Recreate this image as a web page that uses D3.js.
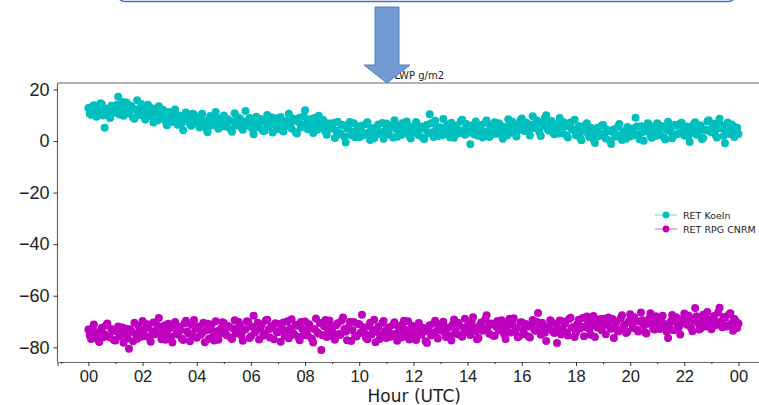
<!DOCTYPE html>
<html lang="en">
  <head>
    <meta charset="utf-8" />
    <title>LWP g/m2</title>
    <style>
      body {
        margin: 0;
        background: #fff;
      }
      svg {
        display: block;
        font-family: 'DejaVu Sans', sans-serif;
      }
    </style>
  </head>

  <body>
    <div id="chart"></div>

    <script src="https://cdnjs.cloudflare.com/ajax/libs/d3/7.4.4/d3.min.js"></script>
    <script type="text/javascript">
      // Samples every 3 minutes, 00 to 24 UTC (one row = one hour)
      var stepMinutes = 3

      var koeln = [
        12.8, 10.6, 10.2, 13.4, 13.9, 11.1, 9.4, 12.0, 11.7, 14.6, 14.2, 9.9, 5.1, 12.3, 12.5, 10.4, 8.9, 13.7, 13.1, 11.0,
        11.4, 14.1, 17.2, 10.3, 12.6, 15.2, 9.8, 12.9, 14.9, 11.5, 10.7, 13.8, 13.3, 9.1, 8.6, 12.2, 15.8, 10.1, 11.2, 14.4,
        12.4, 9.5, 8.3, 11.6, 14.1, 10.0, 9.6, 12.7, 7.2, 10.9, 11.8, 8.0, 13.5, 10.6, 8.9, 12.1, 10.4, 7.7, 6.1, 11.3,
        10.9, 8.4, 7.4, 10.1, 12.2, 8.8, 6.3, 9.9, 9.5, 7.0, 4.2, 8.6, 11.1, 9.2, 8.1, 6.6, 5.9, 10.6, 10.3, 7.8,
        8.8, 6.9, 5.2, 9.1, 10.6, 7.6, 7.1, 4.9, 3.4, 8.3, 9.7, 6.0, 6.5, 9.4, 11.3, 7.3, 4.8, 8.6, 8.2, 5.7,
        9.9, 7.2, 5.5, 8.4, 7.9, 4.6, 3.6, 7.7, 10.8, 6.0, 6.2, 9.0, 8.6, 5.3, 4.4, 7.5, 11.6, 6.8, 5.9, 8.9,
        7.7, 4.9, 2.6, 7.3, 9.4, 6.1, 5.1, 8.5, 8.2, 3.9, 4.0, 7.0, 10.1, 5.6, 6.4, 9.2, 3.3, 6.7, 8.8, 4.7,
        5.4, 8.0, 9.3, 4.2, 3.7, 7.1, 7.8, 5.8, 10.6, 6.3, 4.9, 8.7, 8.1, 3.4, 2.9, 7.4, 9.0, 5.2, 6.2, 9.6,
        11.9, 6.8, 4.6, 7.9, 8.4, 5.3, 3.1, 8.9, 7.2, 4.4, 9.8, 6.0, 5.0, 8.2, 7.6, 3.6, 2.4, 6.1, 6.8, 4.9,
        5.3, 7.0, 1.2, 4.1, 7.5, 2.6, 3.0, 6.3, 6.1, 1.8, -0.6, 4.9, 4.8, 7.4, 2.2, 3.5, 6.9, 1.5, 3.6, 5.7,
        1.5, 4.3, 5.9, 2.2, 2.8, 6.6, 7.3, 3.4, 0.4, 5.0, 4.6, 1.1, 2.1, 5.5, 6.4, 2.9, 3.3, 7.0, 0.9, 4.0,
        6.8, 3.6, 2.5, 6.0, 5.4, 1.4, 8.1, 4.7, 1.7, 5.9, 4.2, 2.3, 7.0, 5.1, 3.1, 7.6, 5.8, 2.0, 1.0, 4.4,
        3.9, 6.1, 7.4, 2.8, 2.2, 5.0, 5.6, 1.3, 0.8, 4.5, 6.3, 3.0, 10.4, 6.9, 3.4, 1.6, 7.9, 4.8, 1.9, 5.3,
        5.2, 2.1, 8.5, 4.0, 2.7, 6.4, 4.6, 1.5, 7.1, 3.7, 1.3, 5.5, 6.0, 2.9, 3.8, 7.7, 8.2, 4.3, 2.4, 6.6,
        5.7, 3.2, -1.3, 6.0, 4.4, 2.5, 7.6, 5.2, 2.0, 4.7, 6.2, 1.4, 3.5, 7.1, 8.0, 3.9, 1.6, 5.9, 5.1, 2.7,
        7.3, 4.5, 2.8, 6.9, 6.1, 3.3, 0.9, 5.4, 4.9, 2.1, 8.4, 5.8, 3.2, 7.5, 6.6, 3.6, 1.8, 4.1, 5.5, 8.0,
        8.7, 5.9, 3.9, 7.2, 6.8, 4.4, 2.1, 6.3, 9.6, 5.0, 5.3, 8.1, 7.4, 3.5, 1.9, 6.6, 6.0, 8.9, 10.0, 4.7,
        4.1, 6.9, 7.8, 3.3, 2.6, 5.7, 6.5, 2.9, 8.9, 5.2, 3.0, 7.3, 5.6, 2.2, 1.4, 6.1, 7.2, 4.6, 4.3, 8.2,
        2.2, 4.8, 5.8, 1.4, 0.3, 3.9, 4.5, 6.2, 6.9, 2.6, 1.6, 5.1, 3.7, 0.6, -0.8, 3.2, 5.1, 1.9, 2.8, 6.0,
        6.2, 2.9, 1.0, 4.4, 3.9, 0.2, -1.2, 3.5, 4.6, 1.7, 2.3, 5.5, 6.6, 2.0, 0.4, 3.8, 3.1, 0.9, 5.4, 2.5,
        1.8, 4.0, 4.9, 2.2, 9.0, 5.6, 2.5, 0.7, 5.7, 3.4, 0.1, 4.6, 3.8, 6.9, 6.4, 2.1, 1.3, 5.0, 4.2, 1.9,
        6.9, 3.7, 2.4, 5.8, 5.3, 1.5, 0.6, 4.4, 7.5, 5.0, 3.6, 1.1, 1.9, 6.3, 5.9, 2.7, 3.0, 6.8, 7.1, 4.1,
        2.1, 4.6, 5.6, 1.8, -0.4, 3.4, 4.8, 6.5, 7.3, 2.4, 2.9, 5.2, 6.0, 0.8, 1.2, 4.3, 4.4, 7.6, 8.1, 3.7,
        3.5, 5.4, 6.7, 2.3, 1.4, 5.0, 8.6, 6.1, 4.9, 1.9, -0.9, 4.2, 7.2, 3.8, 2.6, 6.4, 5.8, 1.6, 3.9, 5.1,
        2.7
      ]

      var cnrm = [
        -73.1, -75.4, -76.8, -72.6, -71.2, -74.2, -75.5, -77.0, -77.9, -73.7, -72.4, -76.1, -74.9, -71.5, -70.8, -75.8, -76.2, -72.9, -73.6, -77.3,
        -77.4, -73.9, -71.9, -75.7, -75.1, -72.3, -78.2, -74.4, -72.8, -76.5, -80.6, -73.0, -74.0, -77.7, -70.5, -74.8, -76.7, -71.7, -73.3, -75.9,
        -69.8, -73.2, -75.6, -71.0, -72.1, -76.3, -77.8, -73.8, -70.4, -74.9, -74.3, -71.6, -68.6, -75.2, -76.9, -72.5, -71.5, -77.1, -74.8, -70.9,
        -72.6, -75.9, -78.1, -71.4, -70.2, -74.4, -75.0, -72.0, -73.4, -76.6, -77.2, -70.8, -69.7, -73.9, -74.6, -77.7, -71.3, -75.3, -69.4, -72.8,
        -76.3, -72.1, -71.8, -75.1, -74.5, -70.5, -78.0, -73.5, -70.9, -76.7, -73.2, -71.2, -75.9, -77.4, -69.9, -73.8, -77.1, -74.7, -72.7, -70.3,
        -70.6, -74.0, -75.3, -71.7, -72.0, -76.1, -76.8, -72.7, -69.5, -74.6, -74.1, -70.2, -71.4, -75.4, -77.5, -73.3, -73.0, -69.9, -70.1, -76.4,
        -75.7, -72.0, -67.8, -74.3, -73.5, -70.5, -77.0, -72.9, -71.2, -75.5, -74.8, -69.6, -69.3, -73.1, -76.2, -71.8, -72.4, -76.9, -70.7, -74.0,
        -74.2, -71.0, -77.8, -73.0, -70.4, -75.6, -73.7, -69.9, -76.5, -72.6, -69.1, -74.5, -75.0, -71.3, -71.6, -76.0, -77.3, -70.2, -72.9, -75.2,
        -70.0, -73.5, -75.4, -71.1, -72.5, -76.7, -78.1, -72.9, -68.8, -74.2, -74.7, -70.6, -81.0, -75.3, -71.8, -69.4, -76.0, -73.8, -69.6, -72.2,
        -73.9, -76.0, -77.1, -71.4, -70.7, -74.8, -75.2, -69.7, -68.4, -72.9, -74.0, -77.3, -72.3, -70.2, -77.6, -73.4, -70.2, -75.5, -75.8, -71.0,
        -71.1, -74.4, -67.4, -72.2, -74.6, -76.3, -76.9, -71.8, -70.5, -75.0, -73.3, -69.3, -78.0, -74.1, -72.0, -76.8, -75.5, -70.6, -69.8, -73.7,
        -76.4, -73.0, -72.2, -75.9, -74.9, -71.3, -70.3, -74.7, -77.5, -72.1, -73.6, -76.2, -71.0, -69.7, -75.8, -73.3, -69.9, -77.0, -74.2, -71.6,
        -72.8, -75.6, -77.2, -71.9, -70.6, -74.0, -75.1, -72.4, -73.9, -77.7, -78.3, -73.1, -71.4, -75.4, -74.5, -70.8, -69.7, -73.8, -76.6, -72.0,
        -73.5, -70.9, -70.1, -74.4, -76.0, -72.7, -72.3, -75.6, -77.4, -71.2, -69.2, -73.9, -74.8, -70.5, -71.6, -75.3, -75.9, -72.5, -68.9, -74.1,
        -71.7, -74.0, -75.2, -70.3, -68.3, -72.5, -73.8, -76.9, -76.4, -71.5, -70.4, -73.6, -72.9, -69.1, -67.6, -72.0, -74.7, -70.8, -70.9, -75.5,
        -75.5, -71.9, -69.8, -73.4, -73.1, -69.5, -71.2, -74.9, -76.8, -72.3, -70.0, -68.9, -74.3, -71.0, -68.7, -73.7, -72.6, -76.1, -75.7, -70.4,
        -70.3, -73.2, -74.9, -71.0, -72.0, -75.8, -76.2, -71.7, -69.4, -73.0, -73.6, -70.1, -66.7, -72.8, -75.1, -70.5, -71.5, -74.4, -77.6, -72.2,
        -72.8, -69.5, -70.2, -73.9, -74.5, -71.1, -78.3, -72.6, -69.6, -75.0, -73.3, -70.0, -71.0, -74.2, -75.4, -69.0, -68.5, -72.4, -72.1, -76.0,
        -74.4, -71.0, -69.3, -72.7, -71.9, -68.6, -75.7, -72.2, -68.1, -70.4, -73.0, -75.1, -70.6, -67.9, -76.0, -71.7, -72.4, -69.5, -69.0, -73.4,
        -71.5, -68.9, -74.9, -70.3, -68.4, -72.1, -72.8, -69.0, -76.4, -71.6, -70.1, -73.9, -73.6, -68.7, -67.6, -72.0, -71.2, -74.5, -74.0, -69.8,
        -67.2, -70.6, -72.5, -68.3, -69.8, -73.1, -73.9, -70.0, -66.5, -69.5, -71.4, -74.2, -74.6, -70.9, -68.9, -66.8, -70.7, -72.8, -73.1, -68.0,
        -69.4, -71.8, -72.9, -68.6, -67.8, -70.9, -71.6, -74.0, -76.4, -72.3, -70.0, -67.5, -73.4, -69.7, -68.3, -71.1, -72.2, -75.0, -70.8, -68.9,
        -66.9, -70.2, -71.3, -67.7, -68.5, -72.4, -73.8, -69.6, -64.8, -68.0, -70.6, -73.1, -72.7, -68.8, -67.4, -70.9, -71.9, -66.3, -69.1, -72.0,
        -73.0, -69.3, -67.9, -71.4, -70.4, -66.5, -64.7, -70.0, -72.2, -68.2, -68.6, -71.9, -71.5, -67.3, -66.8, -70.6, -73.6, -69.0, -69.9, -72.5,
        -70.8
      ]

      var seriesNames = ['RET Koeln', 'RET RPG CNRM']
      var seriesColors = ['#00bfbf', '#bf00bf']

      var xTickHours = [0, 2, 4, 6, 8, 10, 12, 14, 16, 18, 20, 22, 24]
      var xTickLabels = ['00', '02', '04', '06', '08', '10', '12', '14', '16', '18', '20', '22', '00']
      var xMinorHours = [-1, 1, 3, 5, 7, 9, 11, 13, 15, 17, 19, 21, 23, 25]
      var yTicks = [20, 0, -20, -40, -60, -80]

      var width = 759,
        height = 405
      var margin = { top: 83, right: -12, bottom: 43, left: 57.5 }

      var svg = d3.select('#chart').append('svg').attr('width', width).attr('height', height)

      // Scales (matplotlib style padding)
      var x = d3
        .scaleLinear()
        .domain([-1.14, 25.2])
        .range([margin.left, width - margin.right])
      var y = d3
        .scaleLinear()
        .domain([-85.7, 22.5])
        .range([height - margin.bottom, margin.top])

      // Box of the slide above, only its bottom edge shows
      svg
        .append('rect')
        .attr('x', 117)
        .attr('y', -40)
        .attr('width', 619)
        .attr('height', 41.5)
        .attr('rx', 8)
        .attr('fill', '#fff')
        .attr('stroke', '#4472c4')
        .attr('stroke-width', 1.5)

      // Points
      var toPoints = function (values) {
        return values.map(function (v, i) {
          return { h: (i * stepMinutes) / 60, v: v }
        })
      }
      var allSeries = [toPoints(koeln), toPoints(cnrm)]

      allSeries.forEach(function (pts, k) {
        svg
          .append('g')
          .selectAll('circle')
          .data(pts)
          .enter()
          .append('circle')
          .attr('cx', function (d) {
            return x(d.h)
          })
          .attr('cy', function (d) {
            return y(d.v)
          })
          .attr('r', 4)
          .attr('fill', seriesColors[k])
      })

      // Spines (left, top and bottom; right falls off the page)
      var spine = svg.append('g').attr('stroke', '#666').attr('stroke-width', 1.2)
      spine
        .append('line')
        .attr('x1', margin.left)
        .attr('x2', margin.left)
        .attr('y1', y.range()[1])
        .attr('y2', y.range()[0])
      spine
        .append('line')
        .attr('x1', margin.left)
        .attr('x2', width)
        .attr('y1', y.range()[1])
        .attr('y2', y.range()[1])

      // X axis
      var xAxis = d3
        .axisBottom(x)
        .tickValues(xTickHours)
        .tickSize(4)
        .tickPadding(4)
        .tickFormat(function (d, i) {
          return xTickLabels[i]
        })
      var gx = svg
        .append('g')
        .attr('transform', 'translate(0,' + y.range()[0] + ')')
        .call(xAxis)
      gx.select('.domain').attr('stroke', '#666').attr('stroke-width', 1.2)
      gx.selectAll('.tick line').attr('stroke', '#333')
      gx.selectAll('text').attr('font-size', 16.5).attr('fill', '#222')

      svg
        .append('g')
        .attr('transform', 'translate(0,' + y.range()[0] + ')')
        .call(d3.axisBottom(x).tickValues(xMinorHours).tickSize(2).tickFormat(''))
        .call(function (g) {
          g.select('.domain').remove()
          g.selectAll('line').attr('stroke', '#333')
        })

      // Y axis
      var gy = svg
        .append('g')
        .attr('transform', 'translate(' + margin.left + ',0)')
        .call(
          d3
            .axisLeft(y)
            .tickValues(yTicks)
            .tickSize(4)
            .tickPadding(4)
            .tickFormat(function (d) {
              return d < 0 ? '\u2212' + Math.abs(d) : d
            })
        )
      gy.select('.domain').remove()
      gy.selectAll('.tick line').attr('stroke', '#333')
      gy.selectAll('text').attr('font-size', 18).attr('fill', '#222')

      // Axis label and title
      var midX = (x.range()[0] + x.range()[1]) / 2
      svg
        .append('text')
        .attr('x', midX)
        .attr('y', 402)
        .attr('text-anchor', 'middle')
        .attr('font-size', 17)
        .attr('fill', '#222')
        .text('Hour (UTC)')

      svg
        .append('text')
        .attr('x', midX + 5)
        .attr('y', 79)
        .attr('text-anchor', 'middle')
        .attr('font-size', 10)
        .attr('fill', '#222')
        .text('LWP g/m2')

      // Legend
      var legend = svg
        .append('g')
        .selectAll('g')
        .data(seriesNames)
        .enter()
        .append('g')
        .attr('transform', function (d, i) {
          return 'translate(655,' + (215 + i * 14) + ')'
        })
      legend
        .append('line')
        .attr('x1', 0)
        .attr('x2', 22)
        .attr('stroke', function (d, i) {
          return seriesColors[i]
        })
        .attr('stroke-opacity', 0.5)
        .attr('stroke-width', 1.2)
      legend
        .append('circle')
        .attr('cx', 11)
        .attr('r', 3.4)
        .attr('fill', function (d, i) {
          return seriesColors[i]
        })
      legend
        .append('text')
        .attr('x', 28)
        .attr('y', 3.5)
        .attr('font-size', 9.5)
        .attr('fill', '#222')
        .text(function (d) {
          return d
        })

      // Down arrow from the slide box, drawn over the title
      svg
        .append('polygon')
        .attr('points', '375,7 399,7 399,65 410,65 387,83 364,65 375,65')
        .attr('fill', '#729bd1')
        .attr('stroke', '#4f7cbf')
        .attr('stroke-width', 1)
    </script>
  </body>
</html>
